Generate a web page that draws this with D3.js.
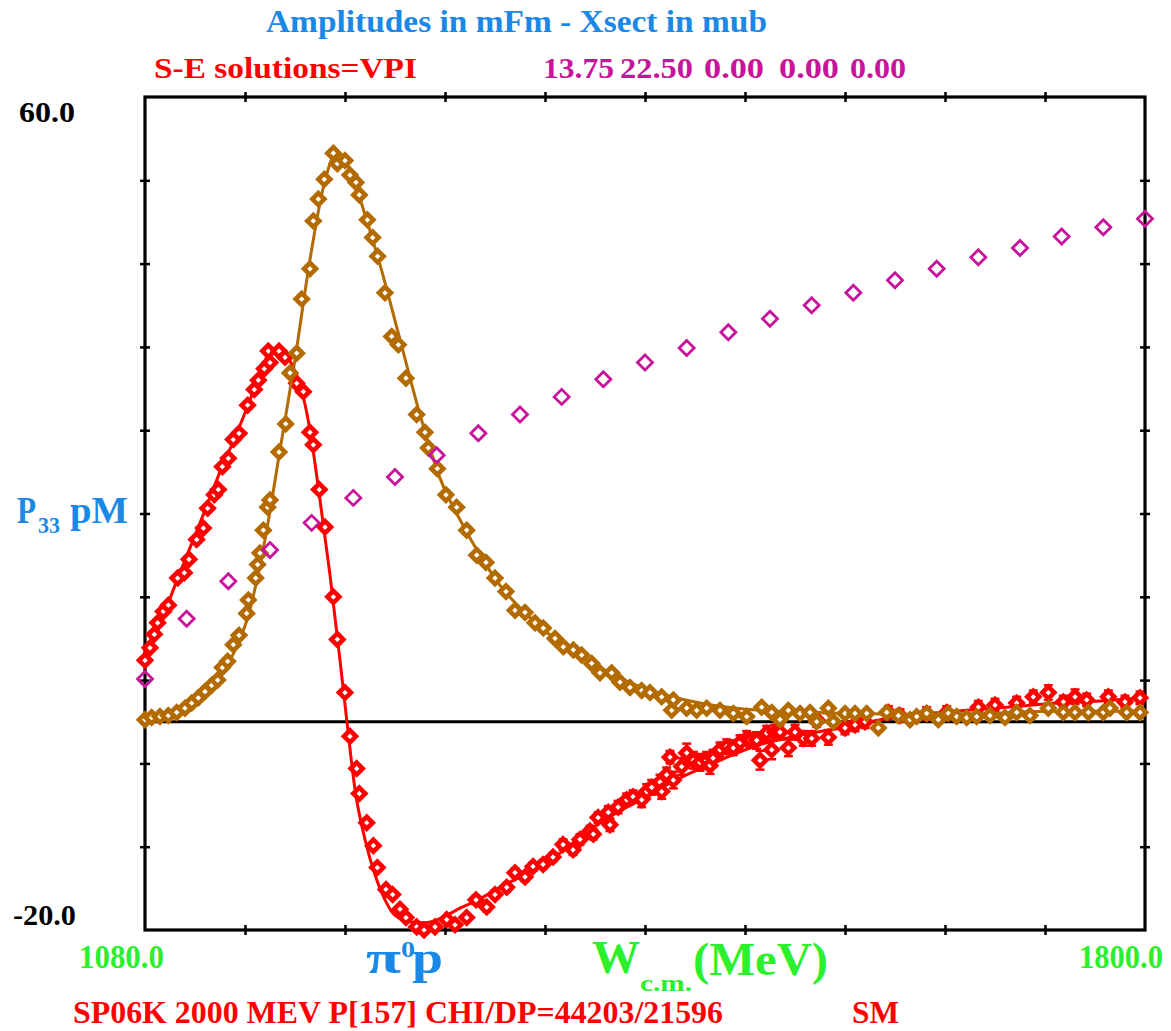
<!DOCTYPE html>
<html><head><meta charset="utf-8">
<script src="https://cdn.jsdelivr.net/npm/d3@7"></script>
<style>
body{margin:0;background:#fff}
svg{display:block}
text{font-family:"Liberation Serif","Times New Roman",serif;font-weight:bold}
</style>
</head><body>
<svg id="c" width="1171" height="1031"></svg>
<script>
// ---------------- DATA ----------------
const xDomain = [1080, 1800];
const yDomain = [-20, 60];
const xTickValues = [1152, 1224, 1296, 1368, 1440, 1512, 1584, 1656, 1728];
const yTickValues = [52, 44, 36, 28, 20, 12, 4, -4, -12];
const xEndLabels = ["1080.0", "1800.0"];
const yEndLabels = ["60.0", "-20.0"];
const headerValues = ["13.75", "22.50", "0.00", "0.00", "0.00"];

// magenta open diamonds: [W, value]
const magentaData = [
 [1080,4.1],[1110,9.9],[1140,13.5],[1170,16.5],[1200,19.1],[1230,21.5],[1260,23.5],[1290,25.6],
 [1320,27.7],[1350,29.5],[1380,31.2],[1410,32.9],[1440,34.5],[1470,35.9],[1500,37.4],[1530,38.7],
 [1560,40.0],[1590,41.2],[1620,42.4],[1650,43.5],[1680,44.6],[1710,45.5],[1740,46.6],[1770,47.5],[1800,48.3]
];

// red fit curve: [W, value]
const redFit = [
 [1080,5.9],[1090.8,9.3],[1101.6,13.1],[1112.4,16.7],[1123.2,20.3],[1134,24.0],[1144.8,27.3],[1155.6,30.9],
 [1162.8,33.5],[1168.6,35.2],[1174.3,35.7],[1180,35.5],[1185.8,34.3],[1191.6,32.4],[1198.8,28.0],[1206,21.3],
 [1213.2,14.1],[1220.4,5.9],[1225.4,0],[1231.2,-6.5],[1238.4,-11.3],[1245.6,-14.7],[1252.8,-17.1],[1260,-18.6],
 [1270.8,-19.2],[1281.6,-19.3],[1292.4,-18.9],[1306.8,-17.9],[1321.2,-17.0],[1335.6,-15.9],[1357.2,-14.4],
 [1378.8,-12.6],[1407.6,-9.7],[1436.4,-7.5],[1465.2,-5.4],[1494,-3.7],[1522.8,-2.2],[1551.6,-1.3],[1580.4,-0.6],
 [1602,0],[1623.6,0.5],[1652.4,0.9],[1681.2,1.2],[1710,1.5],[1738.8,1.8],[1767.6,2.0],[1800,2.3]
];

// red data points: [W, value, error]
const redData = [
 [1080,5.9,0.3],[1083.6,7.1,0.3],[1086.7,8.4,0.3],[1089.1,9.5,0.3],[1093.2,10.6,0.3],[1096.8,11.2,0.3],
 [1103.5,13.8,0.3],[1108.3,14.3,0.3],[1111.7,15.6,0.3],[1117.2,17.5,0.3],[1122,18.6,0.3],[1125.1,20.5,0.3],
 [1129.9,21.8,0.3],[1132.8,22.3,0.3],[1135.7,24.5,0.3],[1140,25.3,0.3],[1143.6,27.1,0.3],[1147.7,27.7,0.3],
 [1153.9,30.4,0.3],[1158.7,31.9,0.3],[1161.6,32.8,0.3],[1165.9,33.9,0.3],[1170,34.5,0.3],[1168.8,35.6,0.3],
 [1176.5,35.6,0.3],[1180.8,35.0,0.3],[1189.2,32.5,0.3],[1194,31.7,0.3],[1198.8,27.8,0.3],[1201.2,26.6,0.3],
 [1205.5,22.3,0.3],[1209.6,18.7,0.3],[1215.6,12.0,0.3],[1218.5,7.9,0.3],[1224,2.8,0.3],[1227.6,-1.4,0.3],
 [1232.4,-4.5,0.3],[1234.3,-6.9,0.3],[1239.6,-9.7,0.3],[1244.4,-11.9,0.3],[1247.3,-14.0,0.3],[1253.5,-16.1,0.3],
 [1258.3,-16.6,0.3],[1263.6,-18.0,0.3],[1267.9,-18.8,0.3],[1275.6,-19.7,0.3],[1280.9,-20.0,0.3],[1288.8,-19.7,0.3],
 [1297.2,-19.0,0.3],[1303.2,-19.5,0.3],[1311.6,-18.8,0.3],[1318.3,-17.1,0.4],[1326,-17.8,0.4],[1332,-16.6,0.4],
 [1340.4,-15.9,0.4],[1346.4,-14.5,0.4],[1353.6,-14.9,0.4],[1359.4,-13.9,0.4],[1366.6,-13.7,0.4],[1373.8,-13.0,0.4],
 [1381,-11.8,0.5],[1388.2,-12.3,0.5],[1393.2,-11.3,0.5],[1400.4,-10.5,0.5],[1402.8,-10.8,0.5],[1406.2,-9.2,0.5],
 [1413.6,-8.7,0.6],[1414.8,-9.9,0.6],[1420.6,-8.2,0.6],[1426.8,-7.5,0.6],[1431.4,-7.2,0.6],[1437.6,-7.5,0.7],
 [1441.2,-6.7,0.7],[1444.8,-6.3,0.7],[1450.8,-5.8,0.7],[1452,-6.7,0.7],[1455.6,-5.1,0.7],[1460.4,-5.6,0.8],
 [1458,-3.4,0.6],[1466.4,-4.3,0.8],[1470,-3.0,0.9],[1474.8,-3.7,0.8],[1479.6,-3.9,0.8],[1484.4,-3.7,0.8],
 [1486.8,-4.2,0.8],[1489,-3.5,0.8],[1494,-2.7,0.7],[1498.8,-2.4,0.7],[1503.6,-2.5,0.7],[1508.4,-2.0,0.7],
 [1513.2,-1.6,0.7],[1515.6,-1.8,0.7],[1520.4,-1.8,0.8],[1522.8,-3.7,0.9],[1527.6,-1.1,0.7],[1531.2,-2.7,0.9],
 [1533.6,-1.0,0.7],[1537.2,-1.0,0.7],[1543.2,-2.5,0.8],[1548,-1.0,0.7],[1554,-1.6,0.7],[1560,-1.6,0.7],
 [1563.6,0.2,0.7],[1572,-1.5,0.7],[1584,-0.6,0.6],[1591.2,-0.3,0.6],[1598.4,0.0,0.6],[1615.2,0.9,0.6],
 [1623.6,0.6,0.6],[1642.8,0.8,0.6],[1657.2,0.9,0.6],[1680,1.4,0.6],[1692,1.6,0.6],[1707.6,1.8,0.6],
 [1719.6,2.4,0.6],[1730.4,2.8,0.7],[1741.2,1.9,0.6],[1749.6,2.4,0.7],[1758,2.1,0.6],[1773.6,2.4,0.6],
 [1785.6,1.9,0.6],[1796.4,2.3,0.6]
];

// brown fit curve: [W, value]
const brownFit = [
 [1080,0.2],[1105.2,1.1],[1126.8,3.1],[1141.2,5.9],[1155.6,10.8],[1166.4,17.5],[1177.2,26.1],[1188,34.8],
 [1198.8,44.4],[1209.6,52.0],[1218.2,54.7],[1227.6,53.0],[1238.4,48.7],[1249.2,43.9],[1263.6,36.7],[1278,29.5],
 [1292.4,23.4],[1306.8,19.4],[1321.2,16.0],[1335.6,13.1],[1357.2,10.0],[1378.8,7.6],[1407.6,5.2],[1443.6,3.0],
 [1479.6,1.8],[1522.8,1.1],[1587.6,0.8],[1660.8,0.7],[1732.8,1.0],[1800,1.0]
];

// brown data points: [W, value]
const brownData = [
 [1080,0.2],[1084.8,0.4],[1090.8,0.5],[1096.8,0.6],[1102.8,0.9],[1108.8,1.3],[1113.6,1.8],[1118.4,2.3],
 [1123.2,2.9],[1128,3.5],[1132.3,4.0],[1135.7,5.2],[1139.5,5.8],[1143.6,7.4],[1147.7,8.3],[1153.2,10.4],
 [1154.4,11.7],[1159.7,13.8],[1161.1,15.1],[1162.8,16.2],[1165.2,18.4],[1168.3,20.6],[1170,21.3],[1176.5,25.9],
 [1181.3,28.6],[1184.4,33.5],[1189.2,35.4],[1192.8,40.6],[1198.8,43.5],[1201.2,48.1],[1204.8,50.2],[1209.1,52.1],
 [1215.6,54.6],[1218.5,53.6],[1224,53.9],[1227.6,52.5],[1231.9,51.8],[1234.3,50.6],[1240.1,48.2],[1243.9,46.5],
 [1247.5,44.7],[1252.8,41.2],[1257.6,37.0],[1262.4,36.2],[1267.9,33.0],[1275.6,29.5],[1281.6,27.8],[1284,26.3],
 [1290.5,24.3],[1296.7,21.8],[1304.4,20.6],[1311.6,18.4],[1318.8,16.0],[1325.5,15.3],[1332,13.8],[1339.9,12.5],
 [1346.4,10.7],[1353.6,10.5],[1360.8,9.5],[1366.8,9.0],[1375.2,8.0],[1381.2,7.2],[1388.4,6.9],[1394.4,6.4],
 [1401.6,5.6],[1407.6,4.7],[1416,4.7],[1422,3.8],[1429.2,3.3],[1437.6,3.0],[1443.6,2.8],[1452,2.4],
 [1459.2,1.1],[1460.4,2.1],[1470,1.3],[1477.2,1.1],[1484.4,1.3],[1494,1.1],[1503.6,0.8],[1513.2,0.5],
 [1524,1.4],[1531.2,0.9],[1537.2,0.2],[1543.2,1.1],[1551.6,0.8],[1558.8,0.9],[1563.6,0.0],[1572,1.3],
 [1575.6,0.0],[1584,0.8],[1591.2,0.8],[1599.6,0.8],[1608,-0.6],[1614,0.9],[1622.4,0.6],[1630.8,0.2],
 [1635.6,0.5],[1642.8,0.8],[1651.2,0.2],[1658.4,0.8],[1664.4,0.5],[1671.6,0.4],[1678.8,0.5],[1688.4,0.6],
 [1699.2,0.4],[1707.6,0.9],[1717.2,0.6],[1730.4,1.3],[1741.2,0.9],[1749.6,0.9],[1759.2,0.9],[1770,0.9],
 [1774.8,1.3],[1786.8,0.9],[1796.4,0.9]
];

// ---------------- CHART ----------------
const RED = "#ff0000", BROWN = "#b36b00", MAGENTA = "#c8139b", BLUE = "#1a88e6", GREEN = "#2df02d";
const svg = d3.select("#c");
const x = d3.scaleLinear().domain(xDomain).range([145, 1145]);
const y = d3.scaleLinear().domain(yDomain).range([930, 97]);

function txt(str, px, py, size, color, width) {
  const t = svg.append("text").attr("x", px).attr("y", py)
    .attr("font-size", size).attr("fill", color).text(str);
  if (width) t.attr("textLength", width).attr("lengthAdjust", "spacingAndGlyphs");
  return t;
}

// axes ticks (crossing both sides) on all four sides
function ticks(axisGen, tx, ty) {
  const g = svg.append("g").attr("transform", `translate(${tx},${ty})`).call(axisGen);
  g.select(".domain").remove();
  g.selectAll(".tick line").attr("stroke", "#000").attr("stroke-width", 2.5);
  g.selectAll(".tick text").remove();
}
const ts = 5;
ticks(d3.axisBottom(x).tickValues(xTickValues).tickSize(ts).tickSizeOuter(0), 0, y(-20));
ticks(d3.axisTop(x).tickValues(xTickValues).tickSize(ts).tickSizeOuter(0), 0, y(-20));
ticks(d3.axisBottom(x).tickValues(xTickValues).tickSize(ts).tickSizeOuter(0), 0, y(60));
ticks(d3.axisTop(x).tickValues(xTickValues).tickSize(ts).tickSizeOuter(0), 0, y(60));
ticks(d3.axisLeft(y).tickValues(yTickValues).tickSize(ts).tickSizeOuter(0), x(1080), 0);
ticks(d3.axisRight(y).tickValues(yTickValues).tickSize(ts).tickSizeOuter(0), x(1080), 0);
ticks(d3.axisLeft(y).tickValues(yTickValues).tickSize(ts).tickSizeOuter(0), x(1800), 0);
ticks(d3.axisRight(y).tickValues(yTickValues).tickSize(ts).tickSizeOuter(0), x(1800), 0);

// frame
svg.append("rect").attr("x", x(1080)).attr("y", y(60))
  .attr("width", x(1800) - x(1080)).attr("height", y(-20) - y(60))
  .attr("fill", "none").attr("stroke", "#000").attr("stroke-width", 3.2);
// zero line
svg.append("line").attr("x1", x(1080)).attr("x2", x(1800)).attr("y1", y(0)).attr("y2", y(0))
  .attr("stroke", "#000").attr("stroke-width", 3);

const line = d3.line().x(d => x(d[0])).y(d => y(d[1])).curve(d3.curveMonotoneX);
const diamond = r => `M0,${-r}L${r},0L0,${r}L${-r},0Z`;

// red fit + data
svg.append("path").datum(redFit).attr("d", line).attr("fill", "none")
  .attr("stroke", RED).attr("stroke-width", 3);
const rg = svg.append("g");
rg.selectAll("g.eb").data(redData).join("g").attr("class", "eb").each(function(d) {
  const g = d3.select(this), cx = x(d[0]), y1 = y(d[1] - d[2]), y2 = y(d[1] + d[2]);
  g.append("line").attr("x1", cx).attr("x2", cx).attr("y1", y1).attr("y2", y2).attr("stroke", RED).attr("stroke-width", 2.5);
  g.append("line").attr("x1", cx - 4.5).attr("x2", cx + 4.5).attr("y1", y1).attr("y2", y1).attr("stroke", RED).attr("stroke-width", 2.5);
  g.append("line").attr("x1", cx - 4.5).attr("x2", cx + 4.5).attr("y1", y2).attr("y2", y2).attr("stroke", RED).attr("stroke-width", 2.5);
});
rg.selectAll("path.m").data(redData).join("path").attr("class", "m")
  .attr("transform", d => `translate(${x(d[0])},${y(d[1])})`)
  .attr("d", diamond(6)).attr("fill", "#fff").attr("stroke", RED).attr("stroke-width", 4.6);

// brown fit + data
svg.append("path").datum(brownFit).attr("d", line).attr("fill", "none")
  .attr("stroke", BROWN).attr("stroke-width", 3);
svg.append("g").selectAll("path").data(brownData).join("path")
  .attr("transform", d => `translate(${x(d[0])},${y(d[1])})`)
  .attr("d", diamond(6)).attr("fill", "#fff").attr("stroke", BROWN).attr("stroke-width", 4.6);

// magenta open diamonds
svg.append("g").selectAll("path").data(magentaData).join("path")
  .attr("transform", d => `translate(${x(d[0])},${y(d[1])})`)
  .attr("d", diamond(7.5)).attr("fill", "none").attr("stroke", MAGENTA).attr("stroke-width", 2.8);

// ---------------- TEXT ----------------
txt("Amplitudes in mFm - Xsect in mub", 266, 32, 31, BLUE, 501);
txt("S-E solutions=VPI", 154, 78, 30, RED, 263);
const hdrX = [543, 620, 704, 779, 850], hdrW = [71, 73, 60, 60, 56];
headerValues.forEach((v, i) => txt(v, hdrX[i], 78, 30, MAGENTA, hdrW[i]));

txt(yEndLabels[0], 19, 122, 30, "#000", 56);
txt(yEndLabels[1], 13, 925, 30, "#000", 63);

txt("P", 17, 523, 38, BLUE, 19);
txt("33", 38, 533, 24, BLUE, 22);
txt("pM", 70, 523, 38, BLUE, 58);

txt(xEndLabels[0], 79, 968, 34, GREEN, 85);
txt(xEndLabels[1], 1079, 968, 34, GREEN, 84);

txt("\u03C0", 366, 973, 46, BLUE, 35);
txt("0", 401, 957, 24, BLUE, 14);
txt("p", 412, 973, 46, BLUE, 31);

txt("W", 592, 973, 46, GREEN, 48);
txt("c.m.", 640, 991, 24, GREEN, 52);
txt("(MeV)", 693, 975, 46, GREEN, 135);

txt("SP06K 2000 MEV P[157] CHI/DP=44203/21596", 73, 1023, 31, RED, 650);
txt("SM", 852, 1023, 31, RED, 47);
</script>
</body></html>
